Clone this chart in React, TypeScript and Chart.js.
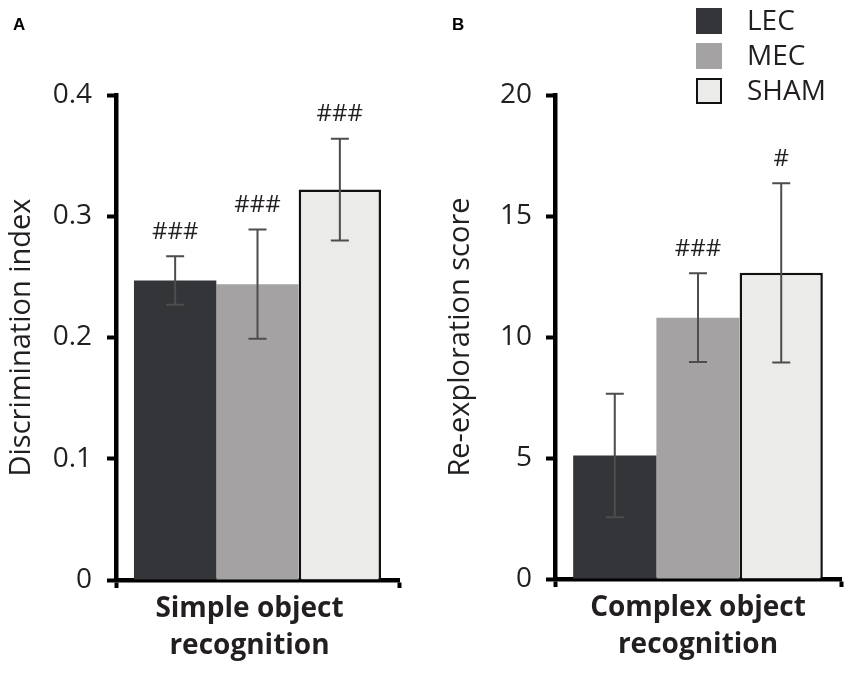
import { useEffect, useRef } from 'react'
import { Chart, registerables } from 'chart.js'

Chart.register(...registerables)

const FONT = '"Open Sans", "Noto Sans", sans-serif'
const INK = '#231f20'

// groups, shared by both panels
const groups = ['LEC', 'MEC', 'SHAM']
const groupColors = ['#333538', '#a5a2a3', '#ebebe9']

// panel A: simple object recognition
const simpleLabel = ['Simple object', 'recognition']
const simpleMeans = [0.247, 0.244, 0.322]
const simpleErrors = [0.02, 0.045, 0.042]
const simpleMarks = ['###', '###', '###']
const simpleTicks = [0, 0.1, 0.2, 0.3, 0.4]

// panel B: complex object recognition
const complexLabel = ['Complex object', 'recognition']
const complexMeans = [5.1, 10.8, 12.65]
const complexErrors = [2.55, 1.83, 3.7]
const complexMarks = ['', '###', '#']
const complexTicks = [0, 5, 10, 15, 20]

const errorBarPlugin = {
  id: 'errorBars',
  afterDatasetsDraw(chart: any) {
    const ctx = chart.ctx
    const y = chart.scales.y
    chart.data.datasets.forEach((ds: any, i: number) => {
      const meta = chart.getDatasetMeta(i)
      meta.data.forEach((bar: any, j: number) => {
        const v = ds.data[j]
        const e = ds.errors[j]
        const top = y.getPixelForValue(v + e)
        const bot = y.getPixelForValue(v - e)
        const x = bar.x
        ctx.save()
        ctx.strokeStyle = '#4d4d4d'
        ctx.lineWidth = 2
        ctx.beginPath()
        ctx.moveTo(x, top)
        ctx.lineTo(x, bot)
        ctx.moveTo(x - 9, top)
        ctx.lineTo(x + 9, top)
        ctx.moveTo(x - 9, bot)
        ctx.lineTo(x + 9, bot)
        ctx.stroke()
        if (ds.marks[j]) {
          ctx.fillStyle = INK
          ctx.font = `24px ${FONT}`
          ctx.textAlign = 'center'
          ctx.textBaseline = 'middle'
          ctx.fillText(ds.marks[j], x, top - 24)
        }
        ctx.restore()
      })
    })
  }
}

const panelDecorPlugin = {
  id: 'panelDecor',
  afterDraw(chart: any, _args: any, opts: any) {
    const ctx = chart.ctx
    ctx.save()
    if (opts.letter) {
      ctx.fillStyle = '#000'
      ctx.font = 'bold 17px "Liberation Sans", Arial, sans-serif'
      ctx.textAlign = 'left'
      ctx.textBaseline = 'alphabetic'
      ctx.fillText(opts.letter, opts.letterX, 30)
    }
    if (opts.legend) {
      const size = 26
      chart.data.datasets.forEach((ds: any, i: number) => {
        const by = opts.legendY + i * 35
        ctx.fillStyle = ds.backgroundColor
        ctx.fillRect(opts.legendX, by, size, size)
        if (ds.borderWidth > 0) {
          ctx.strokeStyle = ds.borderColor
          ctx.lineWidth = 2
          ctx.strokeRect(opts.legendX + 1, by + 1, size - 2, size - 2)
        }
        ctx.fillStyle = INK
        ctx.font = `28px ${FONT}`
        ctx.textAlign = 'left'
        ctx.textBaseline = 'middle'
        ctx.fillText(ds.label, opts.legendX + 51, by + size / 2 + 1)
      })
    }
    ctx.restore()
  }
}

type PanelProps = {
  width: number
  label: string[]
  means: number[]
  errors: number[]
  marks: string[]
  ticks: number[]
  title: string
  letter: string
  letterX: number
  padLeft: number
  padRight: number
  bottomOffset: number
  tickPadding: number
  labelOffset: number
  legend: boolean
}

function BarPanel(p: PanelProps) {
  const chartRef = useRef<HTMLCanvasElement>(null)
  const chartInstance = useRef<Chart | null>(null)

  useEffect(() => {
    if (!chartRef.current) return
    if (chartInstance.current) chartInstance.current.destroy()
    const ctx = chartRef.current.getContext('2d')
    if (!ctx) return

    const datasets = groups.map((g, i) => ({
      label: g,
      data: [p.means[i]],
      errors: [p.errors[i]],
      marks: [p.marks[i]],
      backgroundColor: groupColors[i],
      borderColor: '#111111',
      borderWidth: g === 'SHAM' ? 2.5 : 0,
      categoryPercentage: 0.873,
      barPercentage: 1.0
    }))

    chartInstance.current = new Chart(ctx, {
      type: 'bar',
      data: { labels: [p.label], datasets: datasets as any },
      options: {
        responsive: false,
        animation: false,
        layout: { padding: { left: p.padLeft, right: p.padRight, top: 95, bottom: 0 } },
        plugins: {
          legend: { display: false },
          tooltip: { enabled: false },
          panelDecor: {
            letter: p.letter,
            letterX: p.letterX,
            legend: p.legend,
            legendX: 266,
            legendY: 8
          }
        } as any,
        scales: {
          x: {
            grid: {
              display: true,
              drawOnChartArea: false,
              drawTicks: true,
              tickLength: 8,
              tickWidth: 4,
              color: '#000',
              offset: true
            },
            border: { display: true, width: 4.5, color: '#000' },
            ticks: {
              color: INK,
              font: { family: FONT, size: 28, weight: 'bold', lineHeight: 1.3 },
              padding: 3,
              maxRotation: 0,
              labelOffset: p.labelOffset
            },
            afterFit: (scale: any) => {
              scale.height = 674 - p.bottomOffset
            }
          },
          y: {
            min: p.ticks[0],
            max: p.ticks[p.ticks.length - 1],
            afterBuildTicks: (scale: any) => {
              scale.ticks = p.ticks.map((v) => ({ value: v }))
            },
            grid: {
              display: true,
              drawOnChartArea: false,
              drawTicks: true,
              tickLength: 9,
              tickWidth: 4,
              color: '#000'
            },
            border: { display: true, width: 4.5, color: '#000' },
            ticks: {
              color: INK,
              font: { family: FONT, size: 28 },
              padding: p.tickPadding,
              callback: (v: any) => String(v)
            },
            title: {
              display: true,
              text: p.title,
              color: INK,
              font: { family: FONT, size: 29 },
              padding: { top: 4, bottom: 4 }
            },
            afterFit: (scale: any) => {
              scale.width = 116
            }
          }
        }
      },
      plugins: [errorBarPlugin, panelDecorPlugin]
    })

    return () => {
      if (chartInstance.current) {
        chartInstance.current.destroy()
        chartInstance.current = null
      }
    }
  }, [])

  return <canvas ref={chartRef} width={p.width} height={674} />
}

export default function App() {
  return (
    <div
      style={{
        position: 'absolute',
        left: 0,
        top: 0,
        width: 850,
        height: 674,
        display: 'flex',
        background: '#fff'
      }}
    >
      <BarPanel
        width={430}
        label={simpleLabel}
        means={simpleMeans}
        errors={simpleErrors}
        marks={simpleMarks}
        ticks={simpleTicks}
        title="Discrimination index"
        letter="A"
        letterX={13}
        padLeft={0}
        padRight={31}
        bottomOffset={580}
        tickPadding={15}
        labelOffset={-8}
        legend={false}
      />
      <BarPanel
        width={420}
        label={complexLabel}
        means={complexMeans}
        errors={complexErrors}
        marks={complexMarks}
        ticks={complexTicks}
        title="Re-exploration score"
        letter="B"
        letterX={22}
        padLeft={9}
        padRight={9}
        bottomOffset={579}
        tickPadding={14}
        labelOffset={0}
        legend={true}
      />
    </div>
  )
}
